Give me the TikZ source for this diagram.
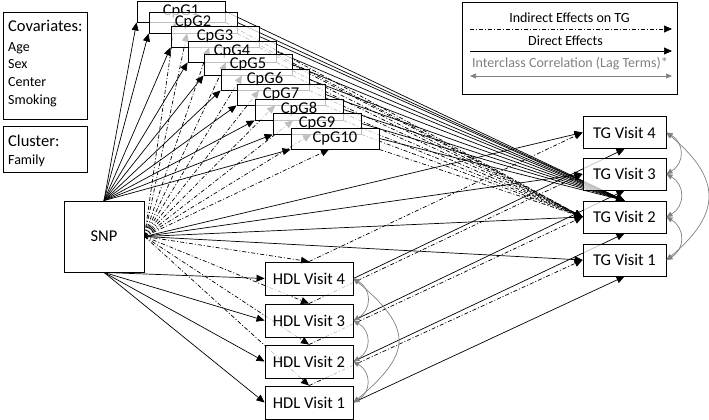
\documentclass[tikz,border=0pt]{standalone}
\usepackage{fontspec}
\setmainfont{Carlito}
\usetikzlibrary{arrows.meta,backgrounds}

\tikzset{
  varbox/.style={draw, line width=0.9pt, fill=white, fill opacity=0.75, text opacity=1,
    inner sep=0pt, font=\fontsize{16.5}{18}\selectfont},
  cpgbox/.style={varbox, minimum width=88pt, minimum height=21pt},
  hdlbox/.style={varbox, minimum width=88pt, minimum height=33pt},
  tgbox/.style={varbox, minimum width=83pt, minimum height=32pt},
  panel/.style={draw, line width=0.9pt},
  direct/.style={line width=0.7pt, -{Triangle[length=8pt,width=7pt]}},
  indirect/.style={direct, dash pattern=on 4pt off 2pt on 1pt off 2pt},
  lagterm/.style={gray, line width=0.7pt, {Triangle[length=6pt,width=5pt]}-{Triangle[length=6pt,width=5pt]}}
}

\begin{document}
\begin{tikzpicture}[x=1pt, y=-1pt]
    \useasboundingbox (0,0) rectangle (709,420);

    % Covariates and cluster panels
    \node[panel, minimum width=84pt, minimum height=107pt] (cov) at (45,65.5) {};
    \node[anchor=north west, align=left, inner sep=0pt, font=\fontsize{14}{17.7}\selectfont] (covtext) at (8,20)
        {{\fontsize{16.5}{18}\selectfont Covariates:}\\[2pt] Age\\ Sex\\ Center\\ Smoking};
    \node[panel, minimum width=84pt, minimum height=46pt] (clu) at (45,149) {};
    \node[anchor=north west, align=left, inner sep=0pt, font=\fontsize{14}{17.7}\selectfont] (clutext) at (8,135)
        {{\fontsize{16.5}{18}\selectfont Cluster:}\\ Family};

    % Legend
    \node[panel, minimum width=215pt, minimum height=92pt] (leg) at (569.5,48) {};
    \node[font=\fontsize{14}{16}\selectfont] (legind) at (569.5,18) {Indirect Effects on TG};
    \node[font=\fontsize{14}{16}\selectfont] (legdir) at (565.5,41) {Direct Effects};
    \node[font=\fontsize{14}{16}\selectfont, text=gray] (leglag) at (570,64) {Interclass Correlation (Lag Terms)*};
    \coordinate (ind0) at (470,29);  \coordinate (ind1) at (672,29);
    \coordinate (dir0) at (470,51);  \coordinate (dir1) at (672,51);
    \coordinate (lag0) at (470,76);  \coordinate (lag1) at (672,76);
    \draw[indirect] (ind0) -- (ind1);
    \draw[direct] (dir0) -- (dir1);
    \draw[lagterm] (lag0) -- (lag1);

    % SNP, CpG sites, HDL and TG visits
    \node[varbox, minimum width=80pt, minimum height=71pt] (snp) at (104,236.5) {SNP};
    \foreach \i/\x/\y in {1/181/11.5, 2/193/22.5, 3/215/36.5, 4/232/51.5, 5/248/64.5,
                          6/265/79.5, 7/281/94.5, 8/299/109.5, 9/317/123.5, 10/335/138.5}
        \node[cpgbox] (cpg\i) at (\x,\y) {CpG\i};
    \foreach \k/\y in {4/278.5, 3/320.5, 2/361.5, 1/402.5}
        \node[hdlbox] (hdl\k) at (309,\y) {HDL Visit \k};
    \foreach \k/\y in {4/132.5, 3/174, 2/217, 1/260}
        \node[tgbox] (tg\k) at (624.5,\y) {TG Visit \k};

    \begin{pgfonlayer}{background}
        % Paths through the CpG sites
        \foreach \i in {1,...,10} {
            \draw[direct] (snp.north) -- (cpg\i.south west);
            \draw[indirect] (snp.east) -- ([xshift=-6pt]cpg\i.south);
            \draw[direct] (cpg\i.east) -- (tg2.north);
            \draw[indirect] (cpg\i.south east) -- (tg2.west);
        }
        % Paths through the HDL visits
        \foreach \k in {1,...,4} {
            \draw[direct] (snp.east) -- (tg\k.west);
            \draw[direct] (snp.south) -- (hdl\k.west);
            \draw[indirect] (snp.east) -- (hdl\k.north);
            \draw[direct] (hdl\k.east) -- (tg\k.south);
            \draw[indirect] (hdl\k.north) -- (tg\k.west);
        }
    \end{pgfonlayer}

    % Lag terms
    \draw[lagterm] (hdl4.east) to[bend left=60, looseness=1.3] (hdl3.east);
    \draw[lagterm] (hdl3.east) to[bend left=60, looseness=1.3] (hdl2.east);
    \draw[lagterm] (hdl2.east) to[bend left=60, looseness=1.3] (hdl1.east);
    \draw[lagterm] (hdl4.east) to[bend left=50, looseness=1.6] (hdl1.east);
    \draw[lagterm] (tg4.east) to[bend left=60, looseness=1.3] (tg3.east);
    \draw[lagterm] (tg3.east) to[bend left=60, looseness=1.3] (tg2.east);
    \draw[lagterm] (tg2.east) to[bend left=60, looseness=1.3] (tg1.east);
    \draw[lagterm] (tg4.east) to[bend left=50, looseness=1.45] (tg1.east);

\end{tikzpicture}
\end{document}
